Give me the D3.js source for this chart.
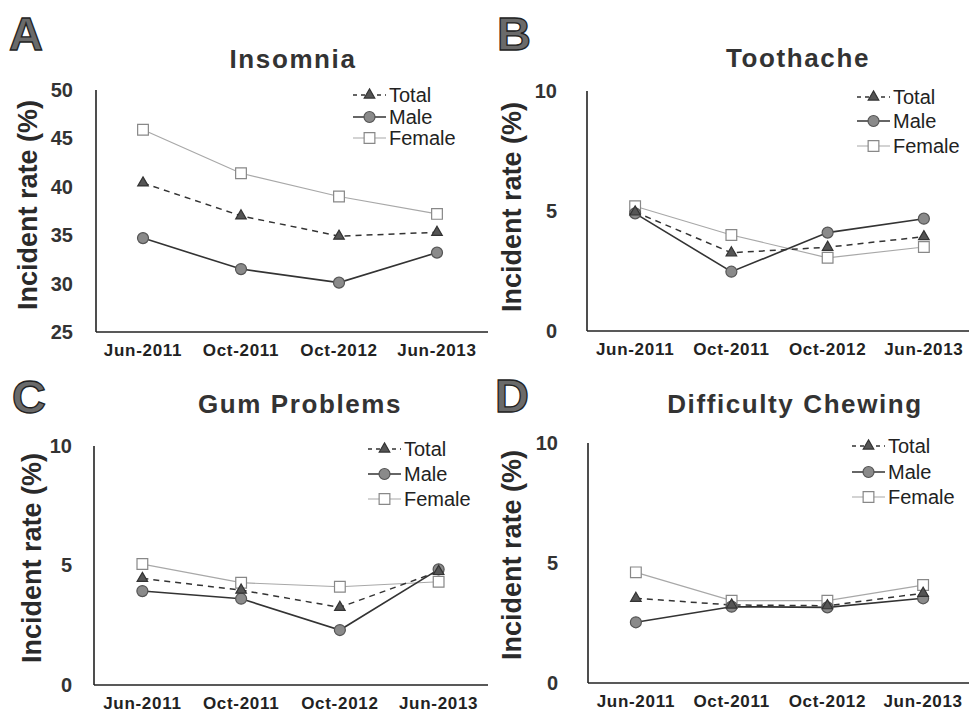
<!DOCTYPE html>
<html><head><meta charset="utf-8">
<script src="https://cdn.jsdelivr.net/npm/d3@7"></script>
<style>body{margin:0;background:#fff}svg{display:block}text{font-family:"Liberation Sans",Arial,sans-serif}</style>
</head><body>
<svg id="c" width="969" height="720"></svg>
<script>
const categories = ["Jun-2011","Oct-2011","Oct-2012","Jun-2013"];
const seriesNames = ["Total","Male","Female"];
const panelLetters = ["A","B","C","D"];
const panelTitles = ["Insomnia","Toothache","Gum Problems","Difficulty Chewing"];
const yDomains = [[25,50],[0,10],[0,10],[0,10]];
const yTicks = [[25,30,35,40,45,50],[0,5,10],[0,5,10],[0,5,10]];
const insomniaTotal = [40.4,37.0,34.9,35.3];
const insomniaMale = [34.7,31.5,30.1,33.2];
const insomniaFemale = [45.9,41.4,39.0,37.2];
const toothacheTotal = [4.96,3.26,3.49,3.93];
const toothacheMale = [4.9,2.47,4.1,4.68];
const toothacheFemale = [5.2,4.0,3.05,3.5];
const gumTotal = [4.46,3.97,3.25,4.75];
const gumMale = [3.93,3.61,2.3,4.84];
const gumFemale = [5.06,4.28,4.11,4.32];
const chewingTotal = [3.53,3.25,3.22,3.74];
const chewingMale = [2.53,3.18,3.15,3.53];
const chewingFemale = [4.61,3.43,3.43,4.08];

const panelData = [
  [insomniaTotal, insomniaMale, insomniaFemale],
  [toothacheTotal, toothacheMale, toothacheFemale],
  [gumTotal, gumMale, gumFemale],
  [chewingTotal, chewingMale, chewingFemale]
];

// layout (positions only)
const layout = [
  {x0:94, x1:486, axL:96, axR:488, top:90, bot:332, tickOff:23, ylx:28, yly:205, tx:293, ty:68, lx:9, ly:50, legX:353, legRows:[95,117,138]},
  {x0:587, x1:972, axL:587, axR:969, top:91, bot:331, tickOff:30, ylx:512, yly:207, tx:798, ty:67, lx:497, ly:50, legX:857, legRows:[97,121,146]},
  {x0:93, x1:488, axL:94, axR:488, top:446, bot:685, tickOff:22, ylx:32, yly:558, tx:300, ty:413, lx:12, ly:413, legX:368, legRows:[449,474,499]},
  {x0:588, x1:971, axL:588, axR:969, top:443, bot:683, tickOff:30, ylx:512, yly:555, tx:795, ty:413, lx:495, ly:412, legX:852, legRows:[446,472,497]}
];

const styles = {
  Total:{stroke:"#333", width:1.5, dash:"6,5", marker:"triangle", fill:"#555", mstroke:"#333"},
  Male:{stroke:"#333", width:1.6, dash:null, marker:"circle", fill:"#8a8a8a", mstroke:"#555"},
  Female:{stroke:"#a8a8a8", width:1.2, dash:null, marker:"square", fill:"#fff", mstroke:"#888"}
};
const symbolFor = {
  triangle: d3.symbol().type(d3.symbolTriangle).size(48),
  circle: d3.symbol().type(d3.symbolCircle).size(95),
  square: d3.symbol().type(d3.symbolSquare).size(115)
};

const svg = d3.select("#c");

function drawMarker(g, st, x, y){
  g.append("path").attr("d", symbolFor[st.marker]())
    .attr("transform", `translate(${x},${y})`)
    .attr("fill", st.fill).attr("stroke", st.mstroke).attr("stroke-width", 1.2);
}

panelData.forEach((series, p) => {
  const L = layout[p];
  const g = svg.append("g");
  const x = d3.scaleBand().domain(categories).range([L.x0, L.x1]).paddingInner(0).paddingOuter(0);
  const y = d3.scaleLinear().domain(yDomains[p]).range([L.bot, L.top]);

  // panel letter
  g.append("text").attr("x", L.lx).attr("y", L.ly).text(panelLetters[p])
    .attr("font-size", 47).attr("font-weight", "bold")
    .attr("fill", "#6a6a6a").attr("stroke", "#222").attr("stroke-width", 1.3);
  // title
  g.append("text").attr("x", L.tx).attr("y", L.ty).attr("text-anchor", "middle")
    .text(panelTitles[p]).attr("font-size", 26).attr("font-weight", "bold")
    .attr("letter-spacing", 1.6).attr("fill", "#333");
  // y label
  g.append("text").attr("transform", `translate(${L.ylx},${L.yly}) rotate(-90)`)
    .attr("text-anchor", "middle").attr("dominant-baseline", "central")
    .text("Incident rate (%)").attr("font-size", 27).attr("font-weight", "bold").attr("fill", "#2a2a2a");

  // y axis
  const ya = d3.axisLeft(y).tickValues(yTicks[p]).tickSize(0).tickPadding(L.tickOff).tickFormat(d3.format("d"));
  const yg = g.append("g").attr("transform", `translate(${L.axL},0)`).call(ya);
  yg.select(".domain").remove();
  yg.selectAll("text").attr("font-size", 20).attr("font-weight", "bold").attr("fill", "#333")
    .attr("font-family", "'Liberation Sans',Arial,sans-serif");
  g.append("line").attr("x1", L.axL).attr("x2", L.axL).attr("y1", L.top).attr("y2", L.bot)
    .attr("stroke", "#222").attr("stroke-width", 1.6);

  // x axis
  const xa = d3.axisBottom(x).tickSize(0).tickPadding(12);
  const xg = g.append("g").attr("transform", `translate(0,${L.bot})`).call(xa);
  xg.select(".domain").remove();
  xg.selectAll("text").attr("font-size", 17).attr("font-weight", "bold").attr("fill", "#222")
    .attr("letter-spacing", 0.7).attr("font-family", "'Liberation Sans',Arial,sans-serif");
  g.append("line").attr("x1", L.axL).attr("x2", L.axR).attr("y1", L.bot).attr("y2", L.bot)
    .attr("stroke", "#222").attr("stroke-width", 1.6);

  // series: draw Female first, then Male, then Total
  const order = [2,1,0];
  const line = d3.line().x((d,i) => x(categories[i]) + x.bandwidth()/2).y(d => y(d));
  order.forEach(si => {
    const st = styles[seriesNames[si]];
    g.append("path").datum(series[si]).attr("d", line)
      .attr("fill", "none").attr("stroke", st.stroke).attr("stroke-width", st.width)
      .attr("stroke-dasharray", st.dash);
  });
  order.forEach(si => {
    const st = styles[seriesNames[si]];
    series[si].forEach((v, i) => drawMarker(g, st, x(categories[i]) + x.bandwidth()/2, y(v)));
  });

  // legend
  seriesNames.forEach((name, si) => {
    const st = styles[name];
    const ry = L.legRows[si];
    g.append("line").attr("x1", L.legX).attr("x2", L.legX + 33).attr("y1", ry).attr("y2", ry)
      .attr("stroke", st.stroke).attr("stroke-width", st.width).attr("stroke-dasharray", st.dash ? "4,4" : null);
    drawMarker(g, st, L.legX + 16.5, ry);
    g.append("text").attr("x", L.legX + 36).attr("y", ry).attr("dominant-baseline", "central")
      .text(name).attr("font-size", 20).attr("fill", "#222");
  });
});
</script>
</body></html>
